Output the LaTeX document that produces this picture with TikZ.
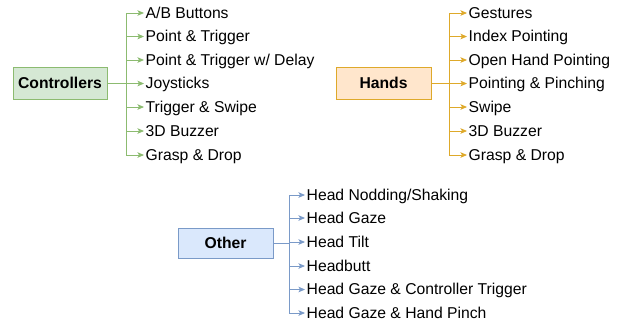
\documentclass[tikz,border=0pt]{standalone}
\usepackage{fontspec}
\setmainfont{Liberation Sans}
\usetikzlibrary{arrows.meta}
\definecolor{gfill}{HTML}{D5E8D4}
\definecolor{gline}{HTML}{8CBB70}
\definecolor{ofill}{HTML}{FFE6CC}
\definecolor{oline}{HTML}{DEA92A}
\definecolor{bfill}{HTML}{DAE8FC}
\definecolor{bline}{HTML}{7A9AC8}
\begin{document}
\begin{tikzpicture}[x=1pt,y=-1pt,
  font=\fontsize{15.7pt}{18pt}\selectfont,
  rootbox/.style={draw, line width=1pt, minimum width=94pt, minimum height=32pt, inner sep=0pt, font=\fontsize{15.7pt}{18pt}\selectfont\bfseries},
  leaf/.style={anchor=west, inner xsep=1.5pt, inner ysep=0pt, text height=10pt, text depth=0pt},
  conn/.style={line width=0.85pt},
  arr/.style={conn, -{Stealth[length=6.5pt,width=5.5pt,inset=1.5pt]}}]
\useasboundingbox (0,0) rectangle (618,322);
% Controllers
\node[rootbox, fill=gfill, draw=gline] (ctrl) at (60,83) {Controllers};
\coordinate (tc) at (126,83);
\foreach \y/\t [count=\i] in {13/{A/B Buttons}, 36.5/{Point \& Trigger}, 60/{Point \& Trigger w/ Delay}, 83.5/{Joysticks}, 107/{Trigger \& Swipe}, 131/{3D Buzzer}, 155/{Grasp \& Drop}}{
  \node[leaf] (c\i) at (144,\y) {\t};
  \draw[arr, gline] (tc) |- (c\i.west);
}
\draw[conn, gline] (ctrl.east) -- (tc);
% Hands
\node[rootbox, fill=ofill, draw=oline, minimum width=95pt] (hand) at (383.5,83) {Hands};
\coordinate (th) at (449,83);
\foreach \y/\t [count=\i] in {13/{Gestures}, 36.5/{Index Pointing}, 60/{Open Hand Pointing}, 83.5/{Pointing \& Pinching}, 107/{Swipe}, 131/{3D Buzzer}, 155/{Grasp \& Drop}}{
  \node[leaf] (h\i) at (467,\y) {\t};
  \draw[arr, oline] (th) |- (h\i.west);
}
\draw[conn, oline] (hand.east) -- (th);
% Other
\node[rootbox, fill=bfill, draw=bline, minimum width=95pt, minimum height=30pt] (oth) at (225.5,243) {Other};
\coordinate (to) at (289,243);
\foreach \y/\t [count=\i] in {195/{Head Nodding/Shaking}, 218/{Head Gaze}, 242/{Head Tilt}, 266/{Headbutt}, 289.5/{Head Gaze \& Controller Trigger}, 313/{Head Gaze \& Hand Pinch}}{
  \node[leaf] (o\i) at (305,\y) {\t};
  \draw[arr, bline] (to) |- (o\i.west);
}
\draw[conn, bline] (oth.east) -- (to);
\end{tikzpicture}
\end{document}
